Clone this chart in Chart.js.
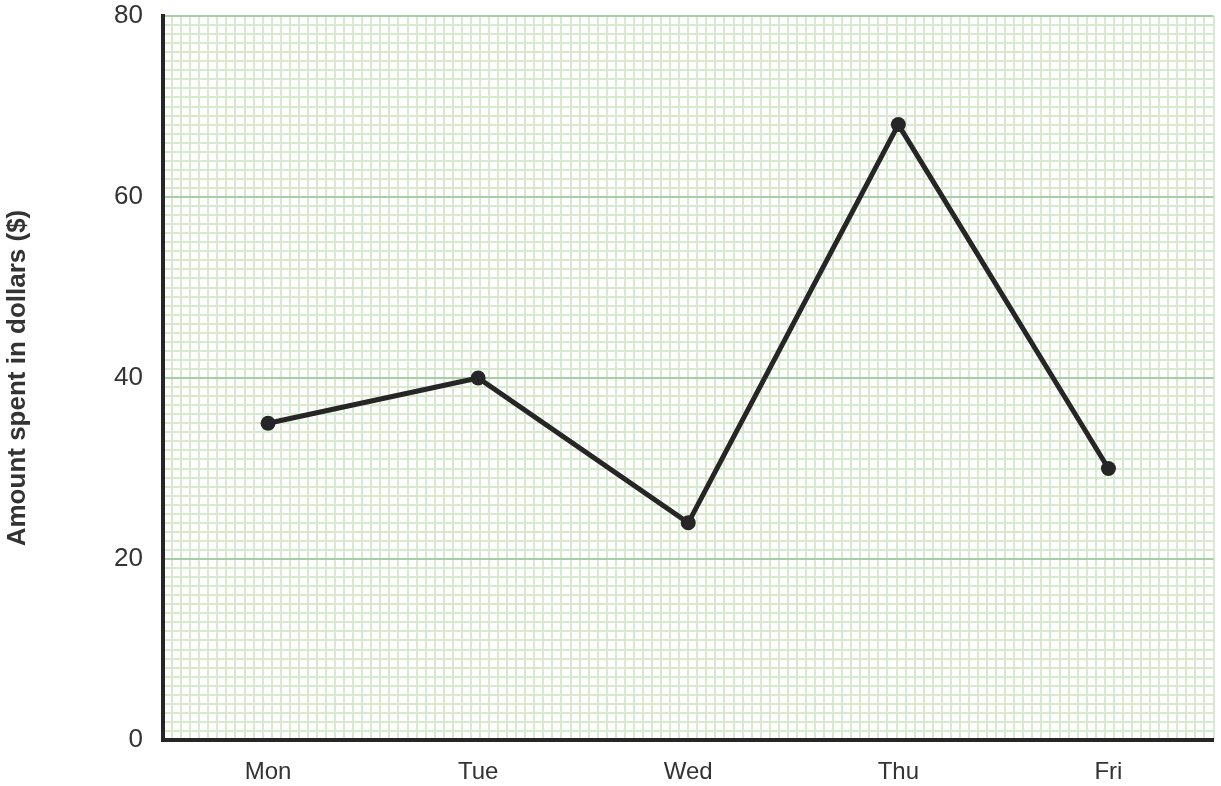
<!DOCTYPE html>
<html>
<head>
<meta charset="utf-8">
<script src="https://cdn.jsdelivr.net/npm/chart.js@4"></script>
<style>
  html, body { margin: 0; padding: 0; background: #fff; }
  #wrap { width: 1221px; height: 786px; position: relative; }
</style>
</head>
<body>
<div id="wrap"><canvas id="grafica"></canvas></div>
<script>
// datos
const dias = ['Mon', 'Tue', 'Wed', 'Thu', 'Fri'];
const gastos = [35, 40, 24, 68, 30];
const ticksY = [0, 20, 40, 60, 80];
const tituloY = 'Amount spent in dollars ($)';

// colores de la cuadrícula
const verdeMayor = '#a6cfa6';
const verdeMenor = '#d8eacd';
const negro = '#262626';

Chart.defaults.font.family = "'Liberation Sans', Arial, sans-serif";

const ctx = document.getElementById('grafica').getContext('2d');

new Chart(ctx, {
    type: 'line',
    data: {
        labels: dias,
        datasets: [{
            data: gastos,
            xAxisID: 'x',
            yAxisID: 'y',
            borderColor: negro,
            backgroundColor: negro,
            borderWidth: 5,
            pointRadius: 7.5,
            pointBackgroundColor: negro,
            pointBorderWidth: 0,
            tension: 0
        }]
    },
    options: {
        responsive: true,
        maintainAspectRatio: false,
        animation: false,
        layout: { padding: { top: 16, right: 7, left: 0, bottom: 0 } },
        plugins: {
            legend: { display: false },
            tooltip: { enabled: false }
        },
        scales: {
            // eje auxiliar solo para las líneas verticales finas
            x2: {
                type: 'linear',
                position: 'bottom',
                min: 0,
                max: 116,
                z: -1,
                ticks: { stepSize: 1, display: false, autoSkip: false },
                grid: { color: verdeMenor, lineWidth: 2, drawTicks: false },
                border: { display: false },
                afterFit: (s) => { s.height = 0; }
            },
            x: {
                type: 'category',
                position: 'bottom',
                offset: true,
                grid: { display: false, drawTicks: false },
                border: { display: true, color: negro, width: 4 },
                ticks: {
                    color: '#333',
                    font: { size: 24 },
                    padding: 18
                },
                afterFit: (s) => { s.height = 46; s.paddingLeft = 0; s.paddingRight = 0; }
            },
            y: {
                min: 0,
                max: 80,
                z: 0,
                border: { display: true, color: negro, width: 4 },
                grid: {
                    drawTicks: false,
                    color: (c) => ticksY.includes(c.tick.value) ? verdeMayor : verdeMenor,
                    lineWidth: (c) => ticksY.includes(c.tick.value) ? 2 : 2
                },
                ticks: {
                    stepSize: 1,
                    autoSkip: false,
                    color: '#333',
                    font: { size: 26 },
                    padding: 20,
                    callback: (val) => ticksY.includes(val) ? String(val) : ''
                },
                title: {
                    display: true,
                    text: tituloY,
                    color: '#333',
                    font: { size: 26, weight: 'bold' },
                    padding: { top: 2, bottom: 0 }
                },
                afterFit: (s) => { s.width = 163; s.paddingTop = 0; s.paddingBottom = 0; }
            }
        }
    }
});
</script>
</body>
</html>
